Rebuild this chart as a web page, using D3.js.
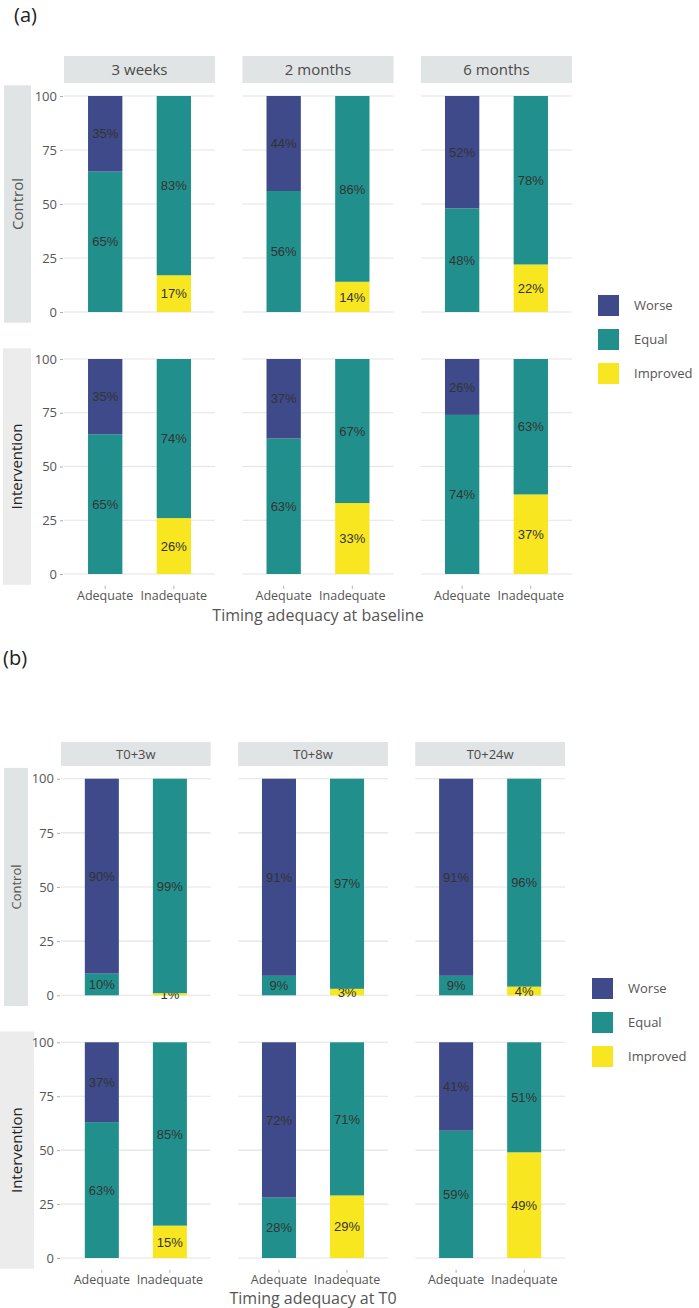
<!DOCTYPE html>
<html>
<head>
<meta charset="utf-8">
<script src="https://cdn.jsdelivr.net/npm/d3@7"></script>
<style>
  html, body { margin: 0; padding: 0; background: #fff; }
  svg { display: block; }
</style>
</head>
<body>
<svg id="chart" width="699" height="1308"></svg>
<script>
// ---------------- DATA ----------------
const adequacy = ["Adequate", "Inadequate"];
const outcomes = ["Worse", "Equal", "Improved"];
const groups = ["Control", "Intervention"];
const timesA = ["3 weeks", "2 months", "6 months"];
const timesB = ["T0+3w", "T0+8w", "T0+24w"];
const yTicks = [0, 25, 50, 75, 100];
const titleA = "Timing adequacy at baseline";
const titleB = "Timing adequacy at T0";

// values per time point: [Adequate, Inadequate]
const aControlWorse         = [[35, 0], [44, 0], [52, 0]];
const aControlEqual         = [[65, 83], [56, 86], [48, 78]];
const aControlImproved      = [[0, 17], [0, 14], [0, 22]];
const aInterventionWorse    = [[35, 0], [37, 0], [26, 0]];
const aInterventionEqual    = [[65, 74], [63, 67], [74, 63]];
const aInterventionImproved = [[0, 26], [0, 33], [0, 37]];

const bControlWorse         = [[90, 0], [91, 0], [91, 0]];
const bControlEqual         = [[10, 99], [9, 97], [9, 96]];
const bControlImproved      = [[0, 1], [0, 3], [0, 4]];
const bInterventionWorse    = [[37, 0], [72, 0], [41, 0]];
const bInterventionEqual    = [[63, 85], [28, 71], [59, 51]];
const bInterventionImproved = [[0, 15], [0, 29], [0, 49]];

// ---------------- STYLE ----------------
const colors = { Worse: "#3E4A89", Equal: "#21908C", Improved: "#F8E621" };
const uiFont = "'Open Sans', 'DejaVu Sans', sans-serif";
const labFont = "'Liberation Sans', Arial, sans-serif";
const textCol = "#555";

const svg = d3.select("#chart");
const color = d3.scaleOrdinal().domain(outcomes).range(outcomes.map(o => colors[o]));

function buildRows(worse, equal, improved, times) {
  const rows = [];
  times.forEach((t, ti) => {
    adequacy.forEach((a, ai) => {
      rows.push({ time: t, adequacy: a, Worse: worse[ti][ai], Equal: equal[ti][ai], Improved: improved[ti][ai] });
    });
  });
  return rows;
}

function drawFigure(cfg) {
  const g = svg.append("g");
  // figure tag
  g.append("text").attr("x", cfg.tagX).attr("y", cfg.tagY)
    .attr("font-family", uiFont).attr("font-size", 20).attr("fill", "#222").text(cfg.tag);

  const panelX = d3.scaleBand().domain(cfg.times).range([cfg.left, cfg.right]).paddingInner(cfg.panelGap);
  const pw = panelX.bandwidth();

  // column strips
  cfg.times.forEach(t => {
    const x0 = panelX(t);
    g.append("rect").attr("x", x0).attr("y", cfg.stripTop).attr("width", pw).attr("height", cfg.stripH)
      .attr("fill", "#E1E4E5");
    g.append("text").attr("x", x0 + pw / 2).attr("y", cfg.stripTop + cfg.stripH / 2)
      .attr("dy", "0.35em").attr("text-anchor", "middle")
      .attr("font-family", uiFont).attr("font-size", cfg.stripFont).attr("fill", "#4a4a4a").text(t);
  });

  groups.forEach((grp, gi) => {
    const row = cfg.rows[gi];
    const y = d3.scaleLinear().domain([0, 100]).range([row.y0, row.y100]);
    const ext = (row.y0 - row.y100) * 0.05;
    const pTop = row.y100 - ext, pBot = row.y0 + ext;

    // row strip
    g.append("rect").attr("x", row.stripX).attr("y", pTop).attr("width", row.stripW)
      .attr("height", pBot - pTop).attr("fill", row.stripFill);
    g.append("text")
      .attr("transform", `translate(${row.stripX + row.stripW / 2},${(pTop + pBot) / 2}) rotate(-90)`)
      .attr("dy", "0.35em").attr("text-anchor", "middle")
      .attr("font-family", uiFont).attr("font-size", row.font).attr("fill", row.textFill).text(grp);

    // y axis labels (first panel only)
    const x0first = panelX(cfg.times[0]);
    const yAxis = d3.axisLeft(y).tickValues(yTicks).tickSize(3).tickPadding(3).tickFormat(d3.format("d"));
    const ya = g.append("g").attr("transform", `translate(${x0first - 1},0)`).call(yAxis);
    ya.select(".domain").remove();
    ya.selectAll(".tick line").attr("stroke", "#999").attr("stroke-width", 0.8);
    ya.selectAll(".tick text").attr("font-family", uiFont).attr("font-size", 13).attr("fill", textCol);

    const data = buildRows(row.worse, row.equal, row.improved, cfg.times);
    const stack = d3.stack().keys(["Improved", "Equal", "Worse"]);
    const series = stack(data);

    cfg.times.forEach(t => {
      const x0 = panelX(t);
      const xb = d3.scaleBand().domain(adequacy).range([x0, x0 + pw]).paddingInner(0.5).paddingOuter(0.35);
      const pg = g.append("g");
      // grid
      pg.selectAll("line.grid").data(yTicks).join("line").attr("class", "grid")
        .attr("x1", x0).attr("x2", x0 + pw).attr("y1", d => y(d)).attr("y2", d => y(d))
        .attr("stroke", "#E3E3E3").attr("stroke-width", 1.1);
      // bars
      series.forEach(s => {
        const segs = s.filter(d => d.data.time === t);
        pg.selectAll(null).data(segs).join("rect")
          .attr("x", d => xb(d.data.adequacy)).attr("width", xb.bandwidth())
          .attr("y", d => y(d[1])).attr("height", d => y(d[0]) - y(d[1]))
          .attr("fill", color(s.key));
        pg.selectAll(null).data(segs.filter(d => d.data[s.key] > 0)).join("text")
          .attr("x", d => xb(d.data.adequacy) + xb.bandwidth() / 2)
          .attr("y", d => y((d[0] + d[1]) / 2)).attr("dy", "0.36em")
          .attr("text-anchor", "middle").attr("font-family", labFont).attr("font-size", 13)
          .attr("fill", "#333").text(d => d.data[s.key] + "%");
      });
      // x axis on the bottom row
      if (gi === groups.length - 1) {
        const xa = g.append("g").attr("transform", `translate(0,${pBot + 1})`)
          .call(d3.axisBottom(xb).tickSize(3).tickPadding(2));
        xa.select(".domain").remove();
        xa.selectAll(".tick line").attr("stroke", "#999").attr("stroke-width", 0.8);
        xa.selectAll(".tick text").attr("font-family", uiFont).attr("font-size", 12.5).attr("fill", textCol);
      }
    });
  });

  // axis title
  g.append("text").attr("x", (cfg.left + cfg.right) / 2).attr("y", cfg.titleY)
    .attr("text-anchor", "middle").attr("font-family", uiFont).attr("font-size", 16)
    .attr("fill", textCol).text(cfg.title);

  // legend
  const lg = g.append("g").attr("transform", `translate(${cfg.legX},${cfg.legY})`);
  outcomes.forEach((o, i) => {
    lg.append("rect").attr("x", 0).attr("y", i * 34).attr("width", 21).attr("height", 21).attr("fill", color(o));
    lg.append("text").attr("x", 36).attr("y", i * 34 + 10.5).attr("dy", "0.35em")
      .attr("font-family", uiFont).attr("font-size", 13).attr("fill", textCol).text(o);
  });
}

drawFigure({
  tag: "(a)", tagX: 14, tagY: 22,
  times: timesA, left: 64, right: 572, panelGap: 26 / 169.3,
  stripTop: 56, stripH: 27, stripFont: 15,
  title: titleA, titleY: 621,
  legX: 598, legY: 295,
  rows: [
    { y100: 96, y0: 312, worse: aControlWorse, equal: aControlEqual, improved: aControlImproved,
      stripX: 4, stripW: 27, stripFill: "#E1E4E5", textFill: "#555", font: 15 },
    { y100: 359, y0: 574, worse: aInterventionWorse, equal: aInterventionEqual, improved: aInterventionImproved,
      stripX: 3, stripW: 28, stripFill: "#ECECEC", textFill: "#222", font: 15 }
  ]
});

drawFigure({
  tag: "(b)", tagX: 3, tagY: 665,
  times: timesB, left: 61, right: 565, panelGap: 26 / 168,
  stripTop: 742, stripH: 24, stripFont: 13,
  title: titleB, titleY: 1304,
  legX: 592, legY: 978,
  rows: [
    { y100: 778.7, y0: 995.3, worse: bControlWorse, equal: bControlEqual, improved: bControlImproved,
      stripX: 4, stripW: 24, stripFill: "#E1E4E5", textFill: "#555", font: 13 },
    { y100: 1042.3, y0: 1258, worse: bInterventionWorse, equal: bInterventionEqual, improved: bInterventionImproved,
      stripX: 0, stripW: 34, stripFill: "#ECECEC", textFill: "#222", font: 15 }
  ]
});
</script>
</body>
</html>
